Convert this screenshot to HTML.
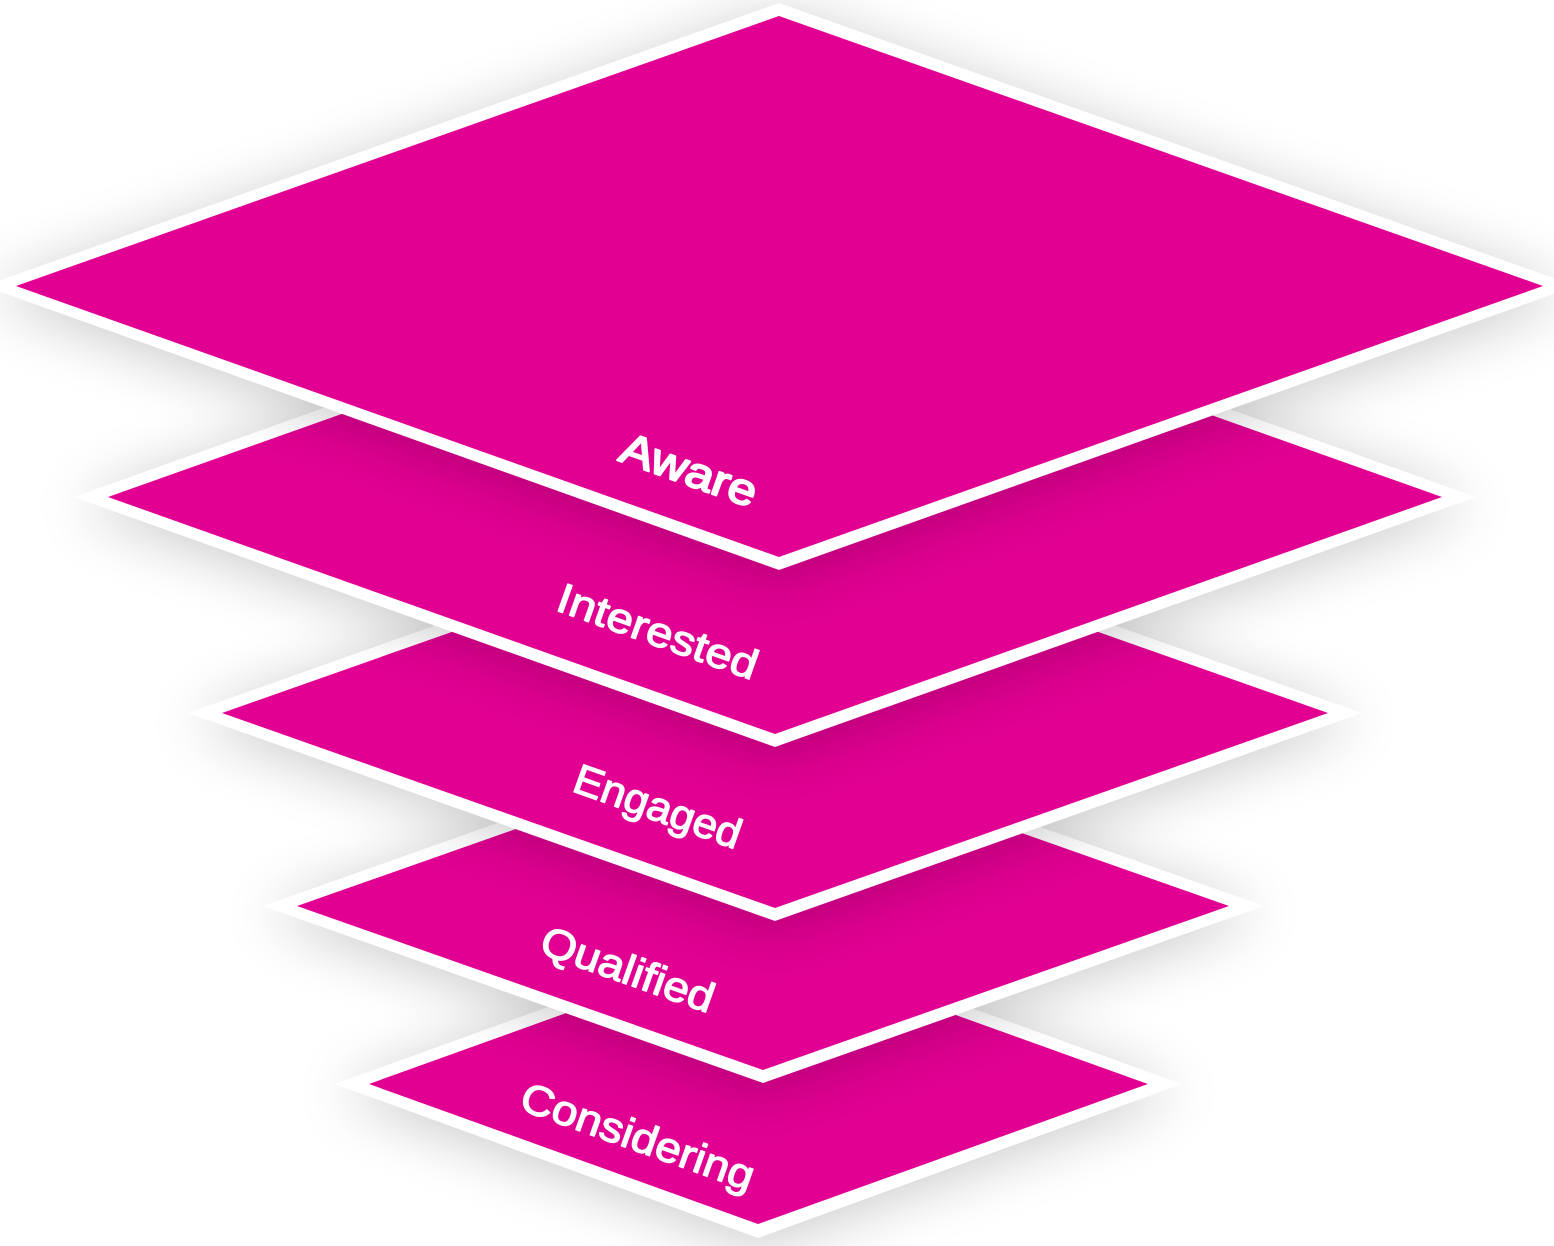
<!DOCTYPE html>
<html>
<head>
<meta charset="utf-8">
<style>
html,body{margin:0;padding:0;background:#fff;width:1554px;height:1246px;overflow:hidden}
svg{display:block}
text{font-family:"Liberation Sans",sans-serif;fill:#fff;stroke:#fff;stroke-width:1.3px;stroke-linejoin:round;text-anchor:middle}
.o{fill:#fff;filter:url(#s)}
.i{fill:#e10092}
</style>
</head>
<body>
<svg width="1554" height="1246" viewBox="0 0 1554 1246" xmlns="http://www.w3.org/2000/svg">
<defs>
<filter id="s" x="-15%" y="-30%" width="130%" height="160%" color-interpolation-filters="sRGB">
<feGaussianBlur in="SourceAlpha" stdDeviation="30"/>
<feOffset dy="8"/>
<feComponentTransfer><feFuncA type="linear" slope="0.21"/></feComponentTransfer>
<feMerge><feMergeNode/><feMergeNode in="SourceGraphic"/></feMerge>
</filter>
</defs>
<rect width="1554" height="1246" fill="#fff"/>

<polygon class="o" points="758,931 1182,1084 758,1238 335,1084"/>
<polygon class="i" points="758,944 1148,1084 758,1224 369,1084"/>
<text transform="translate(633,1150) rotate(19.6)" font-size="42" textLength="245" lengthAdjust="spacingAndGlyphs">Considering</text>

<polygon class="o" points="763,729 1264,906 763,1083 263,906"/>
<polygon class="i" points="763,742 1229,906 763,1070 297,906"/>
<text transform="translate(623,983) rotate(19.6)" font-size="42" textLength="181" lengthAdjust="spacingAndGlyphs">Qualified</text>

<polygon class="o" points="775,505 1362,713 775,921 188,713"/>
<polygon class="i" points="775,518 1328,713 775,908 222,713"/>
<text transform="translate(653,820) rotate(19.6)" font-size="42" textLength="175" lengthAdjust="spacingAndGlyphs">Engaged</text>

<polygon class="o" points="775,247 1476,497 775,747 74,497"/>
<polygon class="i" points="775,260 1442,497 775,734 108,497"/>
<text transform="translate(653,645) rotate(19.6)" font-size="42" textLength="210" lengthAdjust="spacingAndGlyphs">Interested</text>

<polygon class="o" points="779,3 1576,286 779,570 -16,286"/>
<polygon class="i" points="779,16 1543,286 779,557 16,286"/>
<text transform="translate(684,484) rotate(19.6)" font-size="44" textLength="142" lengthAdjust="spacingAndGlyphs" style="stroke-width:2px">Aware</text>
</svg>
</body>
</html>
